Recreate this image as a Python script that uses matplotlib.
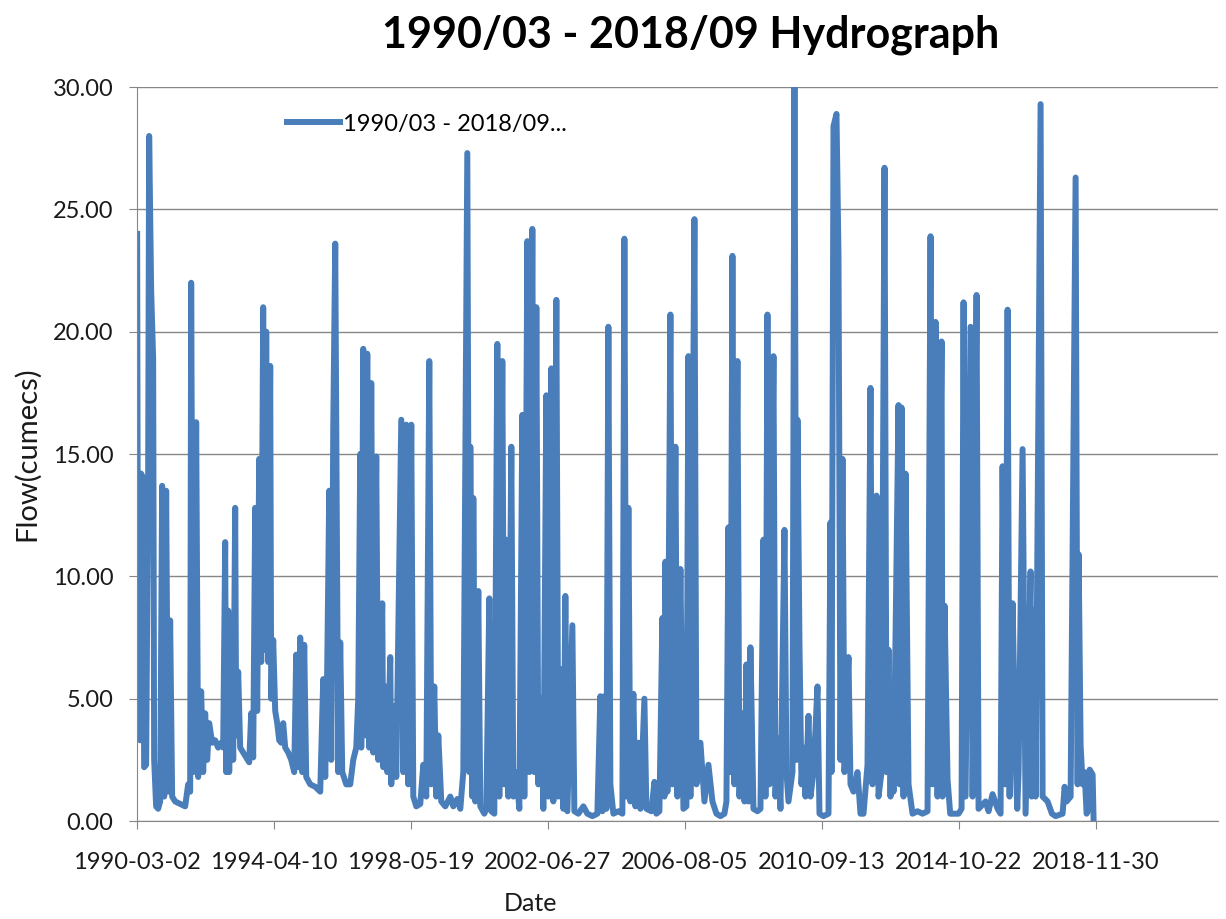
import numpy as np
import pandas as pd
import matplotlib
matplotlib.use('Agg')
import matplotlib.pyplot as plt

plt.rcParams['font.family'] = ['Lato', 'DejaVu Sans']

# flow record (decimal year, cumecs)
yrs = [1990.17, 1990.20, 1990.26, 1990.29, 1990.35, 1990.38, 1990.44, 1990.50, 1990.53, 1990.59,
       1990.65, 1990.68, 1990.74, 1990.80, 1990.86, 1990.92, 1990.98, 1991.04, 1991.10, 1991.16,
       1991.22, 1991.31, 1991.46, 1991.61, 1991.70, 1991.76, 1991.79, 1991.85, 1991.94, 1992.00,
       1992.09, 1992.15, 1992.21, 1992.27, 1992.33, 1992.42, 1992.51, 1992.60, 1992.69, 1992.75,
       1992.81, 1992.84, 1992.90, 1992.93, 1992.99, 1993.05, 1993.11, 1993.14, 1993.20, 1993.26,
       1993.35, 1993.44, 1993.53, 1993.59, 1993.65, 1993.71, 1993.77, 1993.83, 1993.89, 1993.95,
       1993.98, 1994.04, 1994.10, 1994.16, 1994.19, 1994.25, 1994.31, 1994.37, 1994.43, 1994.49,
       1994.55, 1994.61, 1994.70, 1994.79, 1994.88, 1994.94, 1995.00, 1995.06, 1995.12, 1995.18,
       1995.24, 1995.36, 1995.51, 1995.66, 1995.75, 1995.81, 1995.87, 1995.93, 1995.99, 1996.05,
       1996.11, 1996.20, 1996.26, 1996.32, 1996.44, 1996.56, 1996.65, 1996.74, 1996.80, 1996.86,
       1996.89, 1996.95, 1997.01, 1997.07, 1997.13, 1997.19, 1997.25, 1997.34, 1997.40, 1997.52,
       1997.55, 1997.61, 1997.67, 1997.76, 1997.79, 1997.88, 1997.94, 1998.09, 1998.15, 1998.24,
       1998.30, 1998.39, 1998.45, 1998.54, 1998.66, 1998.75, 1998.84, 1998.93, 1998.99, 1999.08,
       1999.14, 1999.20, 1999.29, 1999.41, 1999.56, 1999.65, 1999.77, 1999.86, 1999.95, 2000.07,
       2000.13, 2000.16, 2000.22, 2000.25, 2000.31, 2000.40, 2000.46, 2000.58, 2000.64, 2000.73,
       2000.79, 2000.88, 2000.97, 2001.03, 2001.12, 2001.18, 2001.24, 2001.30, 2001.39, 2001.45,
       2001.54, 2001.63, 2001.72, 2001.78, 2001.87, 2001.93, 2002.02, 2002.08, 2002.14, 2002.20,
       2002.29, 2002.35, 2002.44, 2002.50, 2002.59, 2002.65, 2002.74, 2002.80, 2002.89, 2002.95,
       2003.01, 2003.07, 2003.22, 2003.28, 2003.40, 2003.55, 2003.67, 2003.82, 2003.97, 2004.06,
       2004.12, 2004.18, 2004.24, 2004.30, 2004.36, 2004.45, 2004.60, 2004.72, 2004.78, 2004.84,
       2004.90, 2004.96, 2005.05, 2005.11, 2005.20, 2005.26, 2005.38, 2005.44, 2005.59, 2005.68,
       2005.74, 2005.83, 2005.92, 2005.98, 2006.01, 2006.07, 2006.16, 2006.22, 2006.31, 2006.37,
       2006.46, 2006.55, 2006.64, 2006.70, 2006.76, 2006.88, 2006.94, 2007.06, 2007.18, 2007.30,
       2007.42, 2007.54, 2007.66, 2007.78, 2007.84, 2007.90, 2007.96, 2008.02, 2008.08, 2008.17,
       2008.23, 2008.32, 2008.38, 2008.44, 2008.50, 2008.56, 2008.65, 2008.77, 2008.86, 2008.95,
       2009.01, 2009.07, 2009.13, 2009.25, 2009.31, 2009.37, 2009.46, 2009.58, 2009.64, 2009.70,
       2009.82, 2009.88, 2009.94, 2009.97, 2010.03, 2010.09, 2010.15, 2010.21, 2010.30, 2010.36,
       2010.45, 2010.57, 2010.63, 2010.75, 2010.90, 2010.96, 2010.99, 2011.05, 2011.14, 2011.20,
       2011.26, 2011.32, 2011.38, 2011.50, 2011.56, 2011.65, 2011.77, 2011.86, 2011.95, 2012.07,
       2012.16, 2012.22, 2012.34, 2012.40, 2012.49, 2012.58, 2012.64, 2012.70, 2012.76, 2012.79,
       2012.85, 2013.00, 2013.03, 2013.09, 2013.15, 2013.21, 2013.30, 2013.42, 2013.57, 2013.72,
       2013.87, 2013.96, 2014.02, 2014.11, 2014.17, 2014.29, 2014.32, 2014.38, 2014.47, 2014.55,
       2014.80, 2014.89, 2014.95, 2015.01, 2015.16, 2015.22, 2015.34, 2015.40, 2015.61, 2015.70,
       2015.82, 2015.97, 2016.06, 2016.12, 2016.20, 2016.27, 2016.33, 2016.42, 2016.51, 2016.56,
       2016.60, 2016.72, 2016.81, 2016.96, 2016.99, 2017.05, 2017.11, 2017.26, 2017.32, 2017.47,
       2017.60, 2017.71, 2017.92, 2017.98, 2018.04, 2018.10, 2018.16, 2018.31, 2018.37, 2018.40,
       2018.46, 2018.52, 2018.58, 2018.64, 2018.67, 2018.73, 2018.82, 2018.85]

flow = [24.0, 3.8, 3.3, 14.2, 14.0, 2.2, 2.3, 14.0, 28.0, 21.7,
        18.9, 2.5, 0.6, 0.5, 0.8, 13.7, 1.0, 13.5, 1.2, 8.2,
        1.0, 0.8, 0.7, 0.6, 1.5, 1.2, 22.0, 2.0, 16.3, 1.8,
        5.3, 2.0, 4.4, 2.5, 4.0, 3.2, 3.3, 3.0, 3.2, 3.0,
        11.4, 2.0, 8.6, 2.0, 8.4, 2.5, 12.8, 3.5, 6.1, 3.0,
        2.8, 2.6, 2.4, 4.4, 2.6, 12.8, 4.5, 14.8, 6.5, 21.0,
        7.0, 20.0, 6.5, 18.6, 5.0, 7.4, 4.5, 4.0, 3.3, 3.2,
        4.0, 3.0, 2.8, 2.5, 2.0, 6.8, 2.2, 7.5, 2.0, 7.2,
        1.8, 1.5, 1.4, 1.2, 5.8, 1.8, 6.3, 13.5, 2.5, 16.0,
        23.6, 2.0, 7.3, 2.0, 1.5, 1.5, 2.5, 3.0, 5.0, 15.0,
        3.0, 19.3, 3.5, 19.1, 3.0, 17.9, 2.8, 14.9, 2.5, 8.9,
        2.2, 5.5, 2.0, 6.7, 1.5, 4.7, 1.8, 16.4, 2.0, 16.2,
        1.5, 16.2, 1.0, 0.6, 0.7, 2.3, 1.0, 18.8, 1.5, 5.5,
        1.0, 3.5, 0.8, 0.6, 1.0, 0.6, 0.9, 0.5, 2.0, 27.3,
        2.0, 15.3, 1.0, 13.2, 0.8, 9.4, 0.6, 0.3, 0.5, 9.1,
        0.4, 0.3, 19.5, 1.0, 18.8, 1.5, 11.5, 1.0, 15.3, 1.0,
        2.0, 0.5, 16.6, 1.0, 23.7, 2.0, 24.2, 2.0, 21.0, 1.5,
        5.0, 0.5, 17.4, 1.0, 18.5, 0.8, 21.3, 1.0, 6.2, 0.5,
        9.2, 0.4, 8.0, 0.4, 0.3, 0.6, 0.3, 0.2, 0.3, 5.1,
        0.4, 5.1, 0.5, 20.2, 1.5, 0.3, 0.4, 0.3, 23.8, 1.0,
        12.8, 0.8, 5.2, 0.6, 3.2, 0.5, 5.0, 0.5, 0.4, 1.6,
        0.3, 0.4, 8.3, 1.0, 10.6, 1.2, 20.7, 1.5, 15.3, 1.0,
        10.3, 0.5, 0.6, 19.0, 1.0, 24.6, 1.5, 3.2, 0.8, 2.3,
        0.8, 0.3, 0.2, 0.3, 0.8, 12.0, 2.0, 23.1, 1.5, 18.8,
        1.0, 4.4, 0.8, 6.4, 0.8, 7.1, 0.5, 0.4, 0.5, 11.5,
        1.0, 20.7, 1.5, 19.0, 1.0, 3.4, 0.5, 11.9, 2.0, 0.8,
        2.0, 31.0, 2.5, 16.4, 7.2, 1.5, 3.0, 1.0, 4.3, 1.0,
        2.0, 5.5, 0.3, 0.2, 0.3, 12.2, 2.0, 28.4, 28.9, 23.1,
        2.5, 14.8, 2.0, 6.7, 1.5, 1.2, 2.0, 0.3, 0.3, 2.3,
        17.7, 1.5, 13.3, 1.0, 2.0, 26.7, 2.0, 7.0, 1.0, 3.6,
        1.2, 17.0, 1.5, 16.9, 1.0, 14.2, 1.5, 0.3, 0.4, 0.3,
        0.4, 23.9, 1.5, 20.4, 1.0, 19.6, 1.0, 8.8, 1.7, 0.3,
        0.3, 0.5, 21.2, 1.0, 20.2, 1.0, 21.5, 0.5, 0.8, 0.4,
        1.1, 0.5, 0.3, 14.5, 1.5, 20.9, 1.0, 8.9, 2.5, 0.5,
        2.0, 15.2, 0.3, 10.2, 1.0, 8.6, 1.0, 29.3, 1.0, 0.8,
        0.3, 0.2, 0.3, 1.4, 0.8, 0.9, 1.0, 26.3, 1.5, 10.9,
        3.1, 1.5, 2.0, 0.3, 0.4, 2.1, 1.9, 0.0]

tick_labels = ['1990-03-02', '1994-04-10', '1998-05-19', '2002-06-27',
               '2006-08-05', '2010-09-13', '2014-10-22', '2018-11-30']
y_ticks = [0, 5, 10, 15, 20, 25, 30]

yrs = np.array(yrs)
dates = pd.Timestamp('1990-01-01') + pd.to_timedelta((yrs - 1990) * 365.25, unit='D')

fig = plt.figure(figsize=(12.26, 9.19), dpi=100)
ax = fig.add_axes([0.1117, 0.1066, 0.8818, 0.7987])

ax.plot(dates, flow, color='#4A7EBB', linewidth=4.3, solid_joinstyle='round',
        label='1990/03 - 2018/09...')

ax.set_ylim(0, 30)
ax.set_xlim(pd.Timestamp('1990-03-02'), pd.Timestamp('2022-08-01'))
ax.set_yticks(y_ticks)
ax.set_yticklabels([f'{v:.2f}' for v in y_ticks])
ax.set_xticks(pd.to_datetime(tick_labels))
ax.set_xticklabels(tick_labels)

ax.grid(axis='y', color='#868686', linewidth=1)
ax.set_axisbelow(True)
for s in ['top', 'right']:
    ax.spines[s].set_visible(False)
for s in ['left', 'bottom']:
    ax.spines[s].set_color('#868686')
ax.tick_params(axis='both', direction='out', length=6, color='#868686',
               labelsize=17, labelcolor='#1a1a1a')
ax.tick_params(axis='y', pad=11)
ax.tick_params(axis='x', pad=16)

ax.set_ylabel('Flow(cumecs)', fontsize=21, color='#1a1a1a')
ax.yaxis.set_label_coords(-0.09, 0.5)
ax.set_xlabel('Date', fontsize=18, color='#1a1a1a')
ax.xaxis.set_label_coords(0.3636, -0.097)

ax.legend(loc='center left', bbox_to_anchor=(0.139, 0.9496), frameon=False,
          fontsize=17, handlelength=2.25, handletextpad=0.13, borderpad=0, borderaxespad=0)

fig.text(0.563, 0.962, '1990/03 - 2018/09 Hydrograph', ha='center', va='center',
         fontsize=31, fontweight='bold')

fig.savefig('out.png', dpi=100, facecolor='white')
